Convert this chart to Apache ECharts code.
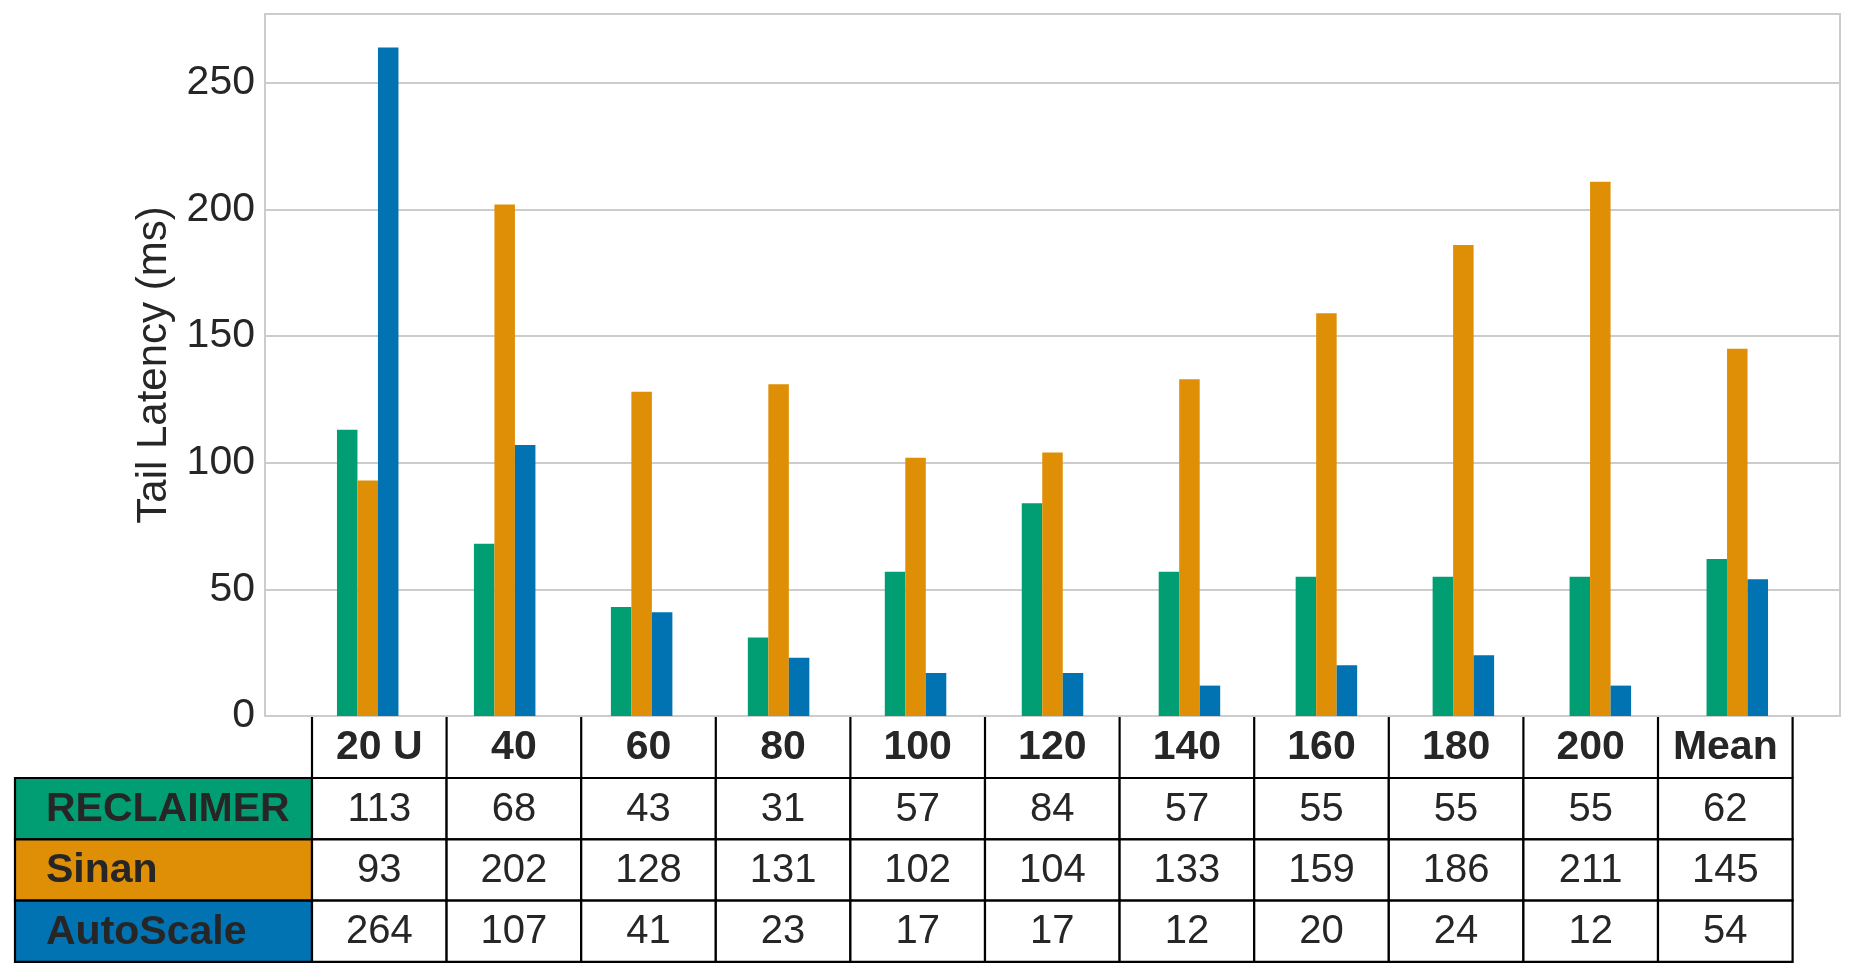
<!DOCTYPE html>
<html>
<head>
<meta charset="utf-8">
<script src="https://cdn.jsdelivr.net/npm/echarts@6/dist/echarts.min.js"></script>
<style>
html,body{margin:0;padding:0;background:#fff;}
#c{width:1855px;height:977px;}
</style>
</head>
<body>
<div id="c"></div>
<script>
const categories = ['20 U','40','60','80','100','120','140','160','180','200','Mean'];
const seriesNames = ['RECLAIMER','Sinan','AutoScale'];
const reclaimer = [113,68,43,31,57,84,57,55,55,55,62];
const sinan = [93,202,128,131,102,104,133,159,186,211,145];
const autoscale = [264,107,41,23,17,17,12,20,24,12,54];
const yTicks = [0,50,100,150,200,250];
const colors = ['#029E73','#DE8F05','#0173B2'];

const allSeries = [reclaimer, sinan, autoscale];
const FONT = '"Liberation Sans", Arial, sans-serif';
const TXT = '#262626';

// table layout
const tX0 = 312, colW = 134.6, labX0 = 15;
const hTop = 716, hBot = 778, rowH = 61.3;

const graphics = [];
for (let j = 0; j <= categories.length; j++) {
  const x = tX0 + j * colW;
  graphics.push({type:'line', shape:{x1:x, y1:717, x2:x, y2:hBot}, style:{stroke:'#000', lineWidth:2.2}, z:10});
}
categories.forEach((c, j) => {
  graphics.push({type:'text', x: tX0 + j*colW + colW/2, y:(hTop+hBot)/2 + 1,
    style:{text:c, font:'bold 41px ' + FONT, fill:TXT, align:'center', verticalAlign:'middle'}, z:11});
});
allSeries.forEach((arr, r) => {
  const y = hBot + r*rowH;
  graphics.push({type:'rect', shape:{x:labX0, y:y, width:tX0-labX0, height:rowH},
    style:{fill:colors[r], stroke:'#000', lineWidth:2.2}, z:10});
  graphics.push({type:'text', x: labX0 + 31, y: y + rowH/2 + 1,
    style:{text:seriesNames[r], font:'bold 41px ' + FONT, fill:TXT, align:'left', verticalAlign:'middle'}, z:11});
  arr.forEach((v, j) => {
    graphics.push({type:'rect', shape:{x:tX0 + j*colW, y:y, width:colW, height:rowH},
      style:{fill:'#fff', stroke:'#000', lineWidth:2.2}, z:10});
    graphics.push({type:'text', x: tX0 + j*colW + colW/2, y: y + rowH/2 + 1,
      style:{text:String(v), font:'40px ' + FONT, fill:TXT, align:'center', verticalAlign:'middle'}, z:11});
  });
});

const chart = echarts.init(document.getElementById('c'), null, {renderer:'canvas'});
chart.setOption({
  animation:false,
  backgroundColor:'#fff',
  grid:{left:265, right:15, top:14, bottom:261, show:true, borderColor:'#cccccc', borderWidth:2, backgroundColor:'#fff'},
  xAxis:{type:'value', min:-0.75, max:10.75, show:false},
  yAxis:{type:'value', min:0, max:277.2, interval:50,
    name:'Tail Latency (ms)', nameLocation:'middle', nameGap:90,
    nameTextStyle:{fontSize:42, color:TXT, fontFamily:FONT},
    axisLine:{show:false}, axisTick:{show:false},
    axisLabel:{fontSize:41, color:TXT, fontFamily:FONT, margin:10, showMaxLabel:false,
      formatter:v => yTicks.includes(v) ? String(v) : ''},
    splitLine:{show:true, lineStyle:{color:'#cccccc', width:2}}
  },
  series: allSeries.map((arr, r) => ({
    type:'bar', name:seriesNames[r], barWidth:20.5, barGap:'0%',
    itemStyle:{color:colors[r]},
    data: arr.map((v, i) => [i, v])
  })),
  graphic: graphics
});
</script>
</body>
</html>
